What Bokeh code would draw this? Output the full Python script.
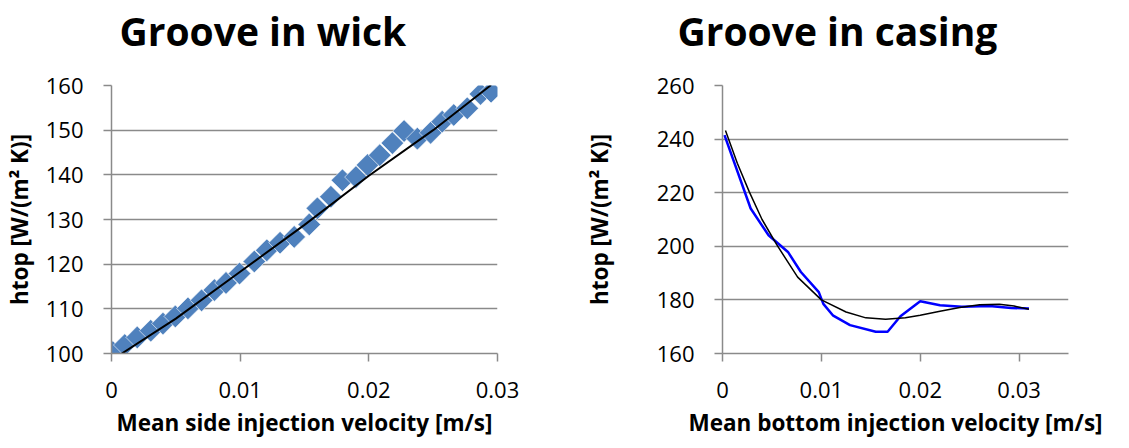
import numpy as np
from bokeh.plotting import figure
from bokeh.layouts import row
from bokeh.models import Range1d, FixedTicker, Title
from bokeh.embed import file_html
from bokeh.resources import INLINE

# ---------------- data ----------------
wick_v = [0.0001, 0.00103, 0.0020, 0.00305, 0.0040, 0.00496, 0.00594, 0.0070, 0.0080, 0.0089,
          0.00995, 0.0111, 0.01207, 0.0131, 0.0142, 0.01537, 0.0160, 0.01705, 0.01795, 0.0190,
          0.0199, 0.02085, 0.02183, 0.02274, 0.02377, 0.0248, 0.0257, 0.0266, 0.02765, 0.02868, 0.0295]
wick_h = [100.3, 101.9, 103.6, 105.1, 106.7, 108.3, 110.1, 111.9, 114.2, 115.8,
          117.9, 120.6, 123.1, 124.8, 126.1, 128.9, 132.5, 135.1, 138.8, 139.5,
          142.2, 144.4, 147.1, 149.8, 148.1, 149.4, 151.9, 153.4, 154.9, 158.1, 158.6]
wick_trend_v = [0.0008, 0.005, 0.010, 0.015, 0.020, 0.025, 0.0295]
wick_trend_h = [100.0, 107.8, 118.3, 128.8, 139.8, 150.0, 160.1]

casing_v = [0.0002, 0.00285, 0.00466, 0.00662, 0.00793, 0.00974, 0.0102, 0.0112, 0.0129,
            0.0155, 0.0167, 0.0180, 0.0200, 0.0220, 0.0242, 0.0270, 0.0292, 0.0310]
casing_h = [241.5, 214.1, 204.1, 197.9, 190.4, 182.9, 178.5, 174.1, 170.6,
            168.1, 168.1, 173.9, 179.5, 178.0, 177.4, 177.7, 177.0, 176.8]
casing_trend_v = [0.0003, 0.0015, 0.0027, 0.0040, 0.0055, 0.0076, 0.0100, 0.0125, 0.0145,
                  0.0165, 0.0185, 0.0200, 0.0220, 0.0240, 0.0260, 0.0280, 0.0295, 0.0310]
casing_trend_h = [243.2, 231.0, 220.4, 210.0, 200.5, 188.5, 180.0, 175.5, 173.3,
                  172.8, 173.3, 174.3, 175.8, 177.2, 178.2, 178.4, 177.7, 176.5]

wick_yticks = [100, 110, 120, 130, 140, 150, 160]
casing_yticks = [160, 180, 200, 220, 240, 260]
x_ticks = [0, 0.01, 0.02, 0.03]
x_tick_labels = ["0", "0.01", "0.02", "0.03"]

titles = ["Groove in wick", "Groove in casing"]
x_labels = ["Mean side injection velocity [m/s]", "Mean bottom injection velocity [m/s]"]
y_label = "htop [W/(m\u00b2 K)]"

GRID = "#8a8a8a"
FONT = "Open Sans"
H = 446


def make(width, bl, br, x_end, y0, y1, yticks, title, xlabel, title_dx, ylab_standoff):
    p = figure(width=width, height=H, x_range=Range1d(0, x_end), y_range=Range1d(y0, y1),
               output_backend="svg", toolbar_location=None, title=None,
               min_border_left=bl, min_border_right=br, min_border_top=85,
               min_border_bottom=H - 353)
    p.outline_line_color = None
    p.background_fill_color = "white"
    p.border_fill_color = "white"

    # spacer between frame and title, then the title itself
    p.add_layout(Title(text=" ", text_font_size="1px", standoff=26), "above")
    p.add_layout(Title(text=title, text_font=FONT, text_font_size="39px",
                       text_font_style="bold", text_color="black", align="left",
                       offset=title_dx, standoff=0), "above")

    p.xaxis.ticker = FixedTicker(ticks=x_ticks)
    p.xaxis.major_label_overrides = dict(zip(x_ticks, x_tick_labels))
    p.yaxis.ticker = FixedTicker(ticks=yticks)
    p.ygrid.ticker = FixedTicker(ticks=yticks)
    p.xgrid.grid_line_color = None
    p.ygrid.grid_line_color = GRID
    p.ygrid.grid_line_width = 1.5

    for ax in (p.xaxis[0], p.yaxis[0]):
        ax.axis_line_color = GRID
        ax.axis_line_width = 1.5
        ax.major_tick_line_color = GRID
        ax.major_tick_line_width = 1.5
        ax.major_tick_in = 0
        ax.major_tick_out = 8
        ax.minor_tick_line_color = None
        ax.major_label_text_font = FONT
        ax.major_label_text_font_size = "22px"
        ax.major_label_text_color = "black"
        ax.axis_label_text_font = FONT
        ax.axis_label_text_font_size = "22.5px"
        ax.axis_label_text_font_style = "bold"
        ax.axis_label_text_color = "black"
    p.xaxis.axis_label = xlabel
    p.yaxis.axis_label = y_label
    p.yaxis.major_label_standoff = 20
    p.xaxis.major_label_standoff = 20
    p.xaxis.axis_label_standoff = 6
    p.yaxis.axis_label_standoff = ylab_standoff
    return p


p1 = make(540, 110, 43, 0.03, 100, 160, wick_yticks, titles[0], x_labels[0], 8, 8)
p1.scatter(wick_v, wick_h, marker="square", angle=np.pi / 4, size=16,
           fill_color="#4F81BD", line_color="white", line_width=0.6)
p1.line(wick_trend_v, wick_trend_h, line_color="black", line_width=2)

p2 = make(589, 182, 61, 0.035, 160, 260, casing_yticks, titles[1], x_labels[1], -45, 39)
p2.line(casing_v, casing_h, line_color="#0000FF", line_width=2.5)
p2.line(casing_trend_v, casing_trend_h, line_color="black", line_width=1.5)

layout = row(p1, p2)
open("out.html", "w").write(file_html(layout, INLINE))
